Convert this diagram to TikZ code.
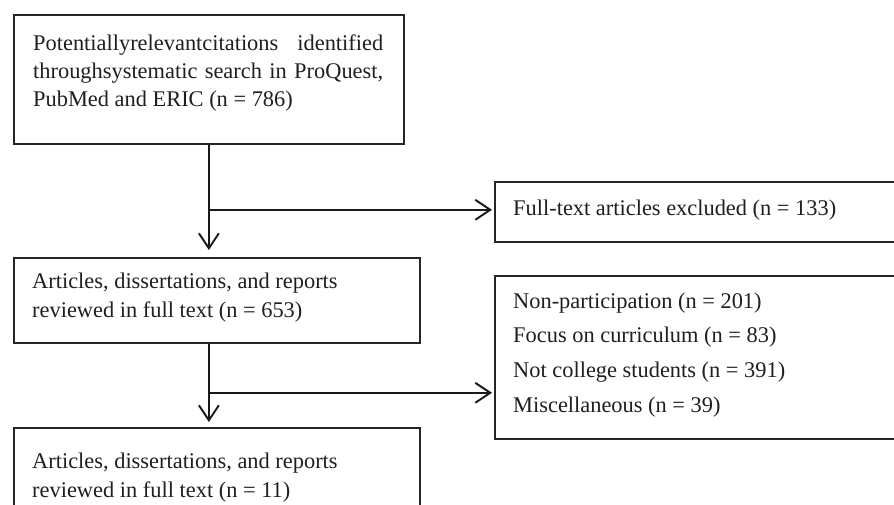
\documentclass[tikz,border=0pt]{standalone}
\usepackage{fontspec}
\setmainfont{Liberation Serif}
\usetikzlibrary{arrows.meta,calc}
\tikzset{
  box/.style={draw=black!85, line width=1.8pt, rectangle, inner sep=0pt, anchor=north west},
  txt/.style={anchor=base west, inner sep=0pt, text=black!88},
  arr/.style={draw=black!90, line width=1.9pt, -{Straight Barb[length=15pt,width=20pt,line width=1.9pt]}},
  ln/.style={draw=black!90, line width=1.9pt}
}
\newcommand{\btext}[3]{\parbox[t]{#1}{\fontsize{22.4}{#2}\selectfont\tolerance=10000\hyphenpenalty=10000 #3}}
\begin{document}
\begin{tikzpicture}[x=1pt,y=-1pt]
\useasboundingbox (0,0) rectangle (894,504);
\clip (0,0) rectangle (894,504);
\fill[white] (0,0) rectangle (894,504);
% boxes
\node[box, minimum width=390pt, minimum height=129pt] (b1) at (13,14) {};
\node[box, minimum width=406pt, minimum height=85pt] (b2) at (13,257) {};
\node[box, minimum width=406pt, minimum height=100pt] (b3) at (13,427) {};
\node[box, minimum width=420pt, minimum height=60pt] (e1) at (494,181) {};
\node[box, minimum width=420pt, minimum height=163pt] (e2) at (494,275) {};
% texts
\node[txt] (t1) at (33,50) {\btext{350pt}{28}{Potentiallyrelevantcitations identified\linebreak throughsystematic search in ProQuest,\linebreak PubMed and ERIC (n = 786)}};
\node[txt] (t2) at (32,288) {\btext{380pt}{29}{\raggedright Articles, dissertations, and reports\\ reviewed in full text (n = 653)}};
\node[txt] (t3) at (32,468) {\btext{380pt}{29}{\raggedright Articles, dissertations, and reports\\ reviewed in full text (n = 11)}};
\node[txt] (t4) at (513,215) {\btext{370pt}{29}{Full-text articles excluded (n = 133)}};
\node[txt] (t5) at (513,308) {\btext{370pt}{34.8}{\raggedright Non-participation (n = 201)\\ Focus on curriculum (n = 83)\\ Not college students (n = 391)\\ Miscellaneous (n = 39)}};
% connectors
\coordinate (j1) at ($(b1.south)+(0,65)$);
\coordinate (j2) at ($(b1.south |- b2.south)+(0,49)$);
\draw[arr] (b1.south) -- ($(b1.south |- b2.north)+(0,-7)$);
\draw[arr] (j1) -- ($(j1 -| e1.west)+(-2,0)$);
\draw[arr] (b1.south |- b2.south) -- ($(b1.south |- b3.north)+(0,-5)$);
\draw[arr] (j2) -- ($(j2 -| e2.west)+(-2,0)$);
\end{tikzpicture}
\end{document}
